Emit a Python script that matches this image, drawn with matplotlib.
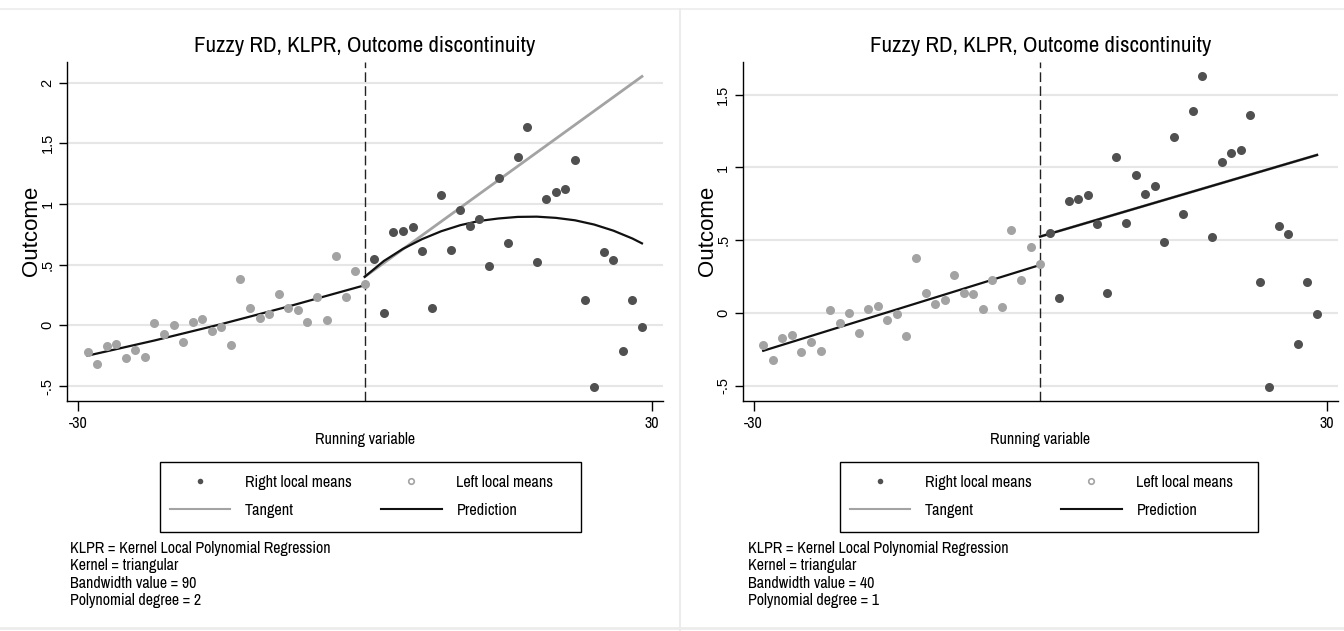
import numpy as np
import matplotlib
matplotlib.use('Agg')
import matplotlib.pyplot as plt
from matplotlib.lines import Line2D
from matplotlib.patches import Rectangle

# narrow sans for horizontal text, regular sans for the rotated y-axis text
NARROW = ['Archivo Narrow', 'Liberation Sans', 'DejaVu Sans']
REGULAR = ['Liberation Sans', 'DejaVu Sans']
plt.rcParams['font.family'] = NARROW

# local means
left_x = list(range(-29, 1))
left_y = [-0.22, -0.32, -0.17, -0.15, -0.27, -0.20, -0.26, 0.02, -0.07, 0.00,
          -0.14, 0.03, 0.05, -0.05, -0.01, -0.16, 0.38, 0.14, 0.06, 0.09,
          0.26, 0.14, 0.13, 0.03, 0.23, 0.04, 0.57, 0.23, 0.45, 0.34]
right_x = list(range(1, 30))
right_y = [0.55, 0.10, 0.77, 0.78, 0.81, 0.61, 0.14, 1.07, 0.62, 0.95,
           0.82, 0.875, 0.49, 1.21, 0.68, 1.39, 1.63, 0.525, 1.04, 1.10,
           1.12, 1.36, 0.21, -0.51, 0.60, 0.54, -0.21, 0.21, -0.01]

# panel 1: bandwidth 90, degree 2
p1_left_x = [-29, -22, -15, -8, 0]
p1_left_y = [-0.25, -0.125, 0.01, 0.155, 0.33]
p1_right_x = [0, 2, 4, 6, 8, 10, 12, 14, 16, 18, 20, 22, 24, 26, 28, 29]
p1_right_y = [0.40, 0.53, 0.63, 0.71, 0.775, 0.825, 0.86, 0.88, 0.893, 0.895,
              0.885, 0.865, 0.83, 0.78, 0.715, 0.675]
p1_tan_x = [0, 29]
p1_tan_y = [0.40, 2.05]

# panel 2: bandwidth 40, degree 1
p2_left_x = [-29, 0]
p2_left_y = [-0.26, 0.33]
p2_right_x = [0, 29]
p2_right_y = [0.525, 1.086]
p2_tan_x = [0, 29]
p2_tan_y = [0.525, 1.086]

notes = [
    "KLPR = Kernel Local Polynomial Regression\nKernel = triangular\nBandwidth value = 90\nPolynomial degree = 2",
    "KLPR = Kernel Local Polynomial Regression\nKernel = triangular\nBandwidth value = 40\nPolynomial degree = 1",
]

W, H = 1344, 631
fig = plt.figure(figsize=(W / 100, H / 100), dpi=100)


def fx(px):
    return px / W


def fy(py):
    return 1 - py / H


panels = [
    dict(rect=[fx(67), fy(400.7), fx(663 - 67), (400.7 - 62) / H],
         ylim=(-0.621, 2.169), yticks=[-0.5, 0, 0.5, 1, 1.5, 2],
         ylabels=['-.5', '0', '.5', '1', '1.5', '2'],
         pred=(p1_left_x, p1_left_y, p1_right_x, p1_right_y), tan=(p1_tan_x, p1_tan_y),
         box=(160, 462, 581, 532), note_x=70, note=notes[0]),
    dict(rect=[fx(742.7), fy(400.7), fx(1338 - 742.7), (400.7 - 62) / H],
         ylim=(-0.603, 1.725), yticks=[-0.5, 0, 0.5, 1, 1.5],
         ylabels=['-.5', '0', '.5', '1', '1.5'],
         pred=(p2_left_x, p2_left_y, p2_right_x, p2_right_y), tan=(p2_tan_x, p2_tan_y),
         box=(840, 462, 1258, 532), note_x=748, note=notes[1]),
]

dark = '#505050'
light = '#a3a3a3'

for p in panels:
    ax = fig.add_axes(p['rect'])
    ax.set_xlim(-31.15, 31.2)
    ax.set_ylim(*p['ylim'])
    for s in ['top', 'right']:
        ax.spines[s].set_visible(False)
    ax.spines['left'].set_linewidth(1.0)
    ax.spines['bottom'].set_linewidth(1.0)
    ax.set_yticks(p['yticks'])
    ax.set_yticklabels(p['ylabels'], rotation=90, va='center', fontsize=10.5, family=REGULAR)
    ax.set_xticks([-30, 30])
    ax.set_xticklabels(['-30', '30'], fontsize=11.5)
    ax.tick_params(axis='y', length=6, width=1, pad=3)
    ax.tick_params(axis='x', length=7, width=1, pad=4)
    ax.yaxis.grid(True, color='#e6e6e6', linewidth=1.5)
    ax.set_axisbelow(True)
    ax.set_ylabel('Outcome', fontsize=16, labelpad=-1, family=REGULAR)
    ax.set_xlabel('Running variable', fontsize=11.5, labelpad=1)
    ax.set_title('Fuzzy RD, KLPR, Outcome discontinuity', fontsize=16.5, pad=7.5)

    ax.axvline(0, color='#222222', linewidth=1.0, dashes=(7, 3))
    tx, ty = p['tan']
    ax.plot(tx, ty, color=light, linewidth=2.0, zorder=3)
    lx, ly, rx, ry = p['pred']
    ax.plot(lx, ly, color='#111111', linewidth=1.6, zorder=4)
    ax.plot(rx, ry, color='#111111', linewidth=1.6, zorder=4)
    ax.plot(right_x, right_y, 'o', color=dark, markersize=6.5, markeredgewidth=0, zorder=5)
    ax.plot(left_x, left_y, 'o', color=light, markersize=6.5, markeredgewidth=0, zorder=5)

    handles = [
        Line2D([], [], marker='o', color=dark, linestyle='none', markersize=4, markeredgewidth=0),
        Line2D([], [], color=light, linewidth=1.5),
        Line2D([], [], marker='o', markerfacecolor='white', markeredgecolor=light,
               linestyle='none', markersize=4, markeredgewidth=1.2),
        Line2D([], [], color='#111111', linewidth=1.5),
    ]
    labels = ['Right local means', 'Tangent', 'Left local means', 'Prediction']
    x0, y0, x1, y1 = p['box']
    fig.add_artist(Rectangle((fx(x0), fy(y1)), fx(x1 - x0), (y1 - y0) / H,
                             transform=fig.transFigure, facecolor='white',
                             edgecolor='black', linewidth=1.0))
    fig.legend(handles, labels, loc='center left',
               bbox_to_anchor=(fx(x0 + 10), fy((y0 + y1) / 2 - 0.5)),
               ncol=2, fontsize=11.7, frameon=False, borderpad=0, borderaxespad=0,
               handlelength=3.7, handletextpad=0.92, columnspacing=1.82,
               labelspacing=0.78)

    fig.text(fx(p['note_x']), fy(541), p['note'], fontsize=11.5, va='top', ha='left',
             linespacing=1.2)

# faint frame lines of the two graph panes
fig.add_artist(Line2D([0, 1], [fy(9), fy(9)], color='#ececec', linewidth=1.2))
fig.add_artist(Line2D([fx(680), fx(680)], [fy(9), 0], color='#ececec', linewidth=1.5))
fig.add_artist(Line2D([0, 1], [fy(628), fy(628)], color='#ececec', linewidth=2))

fig.savefig('out.png', dpi=100)
